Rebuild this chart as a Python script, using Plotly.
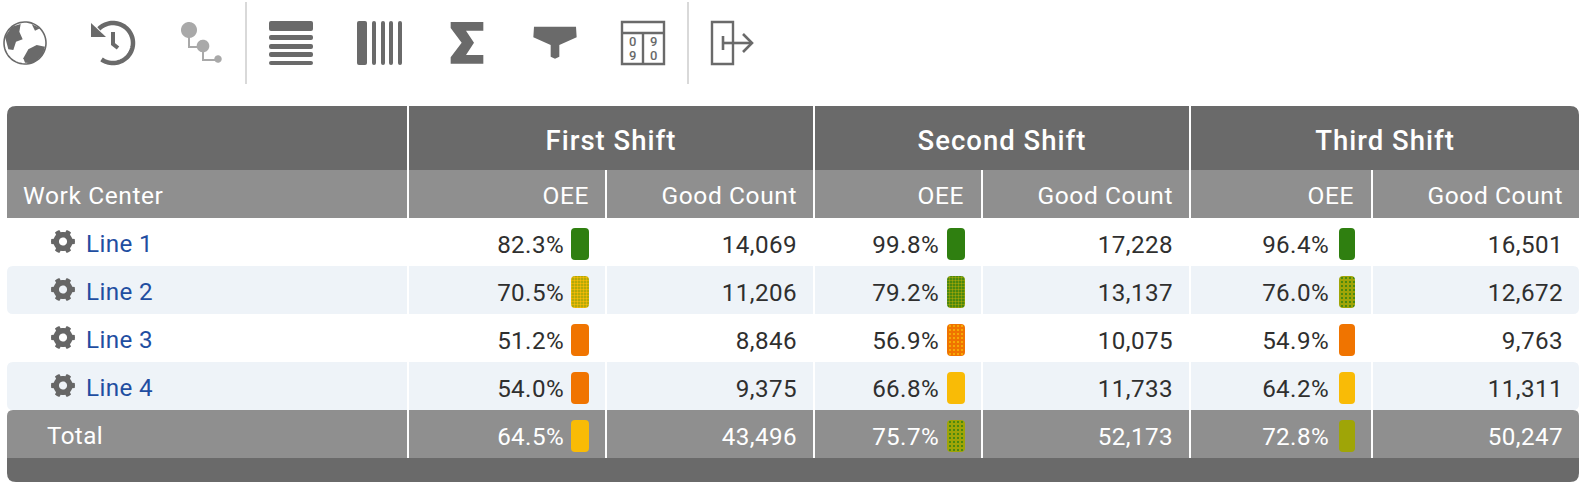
import numpy as np
import plotly.graph_objects as go

shift_names = ['First Shift', 'Second Shift', 'Third Shift']
work_centers = ['Line 1', 'Line 2', 'Line 3', 'Line 4']
total_label = 'Total'

first_oee = [82.3, 70.5, 51.2, 54.0, 64.5]
first_good = [14069, 11206, 8846, 9375, 43496]
second_oee = [99.8, 79.2, 56.9, 66.8, 75.7]
second_good = [17228, 13137, 10075, 11733, 52173]
third_oee = [96.4, 76.0, 54.9, 64.2, 72.8]
third_good = [16501, 12672, 9763, 11311, 50247]

GREEN, OLIVE, AMBER, ORANGE = '#2f7f10', '#9fa507', '#f9bb06', '#f07400'
first_chip = [GREEN, OLIVE, ORANGE, ORANGE, AMBER]
second_chip = [GREEN, GREEN, ORANGE, AMBER, OLIVE]
third_chip = [GREEN, OLIVE, ORANGE, AMBER, OLIVE]
first_dots = [None, AMBER, None, None, None]
second_dots = [None, OLIVE, AMBER, None, GREEN]
third_dots = [None, GREEN, None, None, None]

DARK = '#6a6a6a'
MID = '#8f8f8f'
STRIPE = '#eef3f8'
INK = '#2f2f2f'
BLUE = '#1f4ea1'
LIGHT = '#a9a9a9'
FONT = 'Roboto'

TABLE_L, TABLE_R = 7, 1579
ROW_H = 48
ROW_TOP = [218, 266, 314, 362, 410]
shift_lines = [408, 814, 1190]
oee_lines = [606, 982, 1372]
shift_x = [611, 1002, 1385]
oee_right = [589, 964, 1354]
good_right = [797, 1173, 1563]
chip_center = [580, 956, 1347]
chip_width = [18, 18, 16]


def rounded(x0, y0, x1, y1, tl=0, tr=0, br=0, bl=0):
    return (f'M {x0+tl} {y0} L {x1-tr} {y0} Q {x1} {y0} {x1} {y0+tr} '
            f'L {x1} {y1-br} Q {x1} {y1} {x1-br} {y1} '
            f'L {x0+bl} {y1} Q {x0} {y1} {x0} {y1-bl} '
            f'L {x0} {y0+tl} Q {x0} {y0} {x0+tl} {y0} Z')


def poly(points, scale=1.0, ox=0.0, oy=0.0, close=True):
    p = [f'{ox + x * scale:.2f} {oy + y * scale:.2f}' for x, y in points]
    return 'M ' + ' L '.join(p) + (' Z' if close else '')


def arc(cx, cy, r, a0, a1, n=60):
    a = np.radians(np.linspace(a0, a1, n))
    return list(zip(cx + r * np.cos(a), cy - r * np.sin(a)))


def gear(cx, cy, r=12.0, teeth=6):
    outline = []
    step = 360 / teeth
    for i in range(teeth):
        c = i * step
        outline += arc(cx, cy, r * 0.8, c - step / 2, c - step * 0.27, 3)
        outline += arc(cx, cy, r, c - step * 0.2, c + step * 0.2, 3)
        outline += arc(cx, cy, r * 0.8, c + step * 0.27, c + step / 2, 3)
    hole = arc(cx, cy, r * 0.34, 360, 0, 16)
    return poly(outline) + ' ' + poly(hole)


fig = go.Figure()


def fill(path, color, layer='below'):
    fig.add_shape(type='path', path=path, fillcolor=color, line_width=0, layer=layer)


def stroke(path, color=DARK, width=2.0):
    fig.add_shape(type='path', path=path, line=dict(color=color, width=width), layer='below')


# table background
fill(rounded(TABLE_L, 106, TABLE_R, 170, tl=9, tr=9), DARK)
fill(rounded(TABLE_L, 170, TABLE_R, 218), MID)
for i in (1, 3):
    fill(rounded(TABLE_L, ROW_TOP[i], TABLE_R, ROW_TOP[i] + ROW_H, 6, 6, 6, 6), STRIPE)
fill(rounded(TABLE_L, 410, TABLE_R, 458, tl=6, tr=6), MID)
fill(rounded(TABLE_L, 458, TABLE_R, 482, br=9, bl=9), DARK)
for x in shift_lines:
    fill(rounded(x - 1, 106, x + 1, 458), 'white')
for x in oee_lines:
    fill(rounded(x - 1, 170, x + 1, 458), 'white')
for i in range(4):
    fill(gear(63, ROW_TOP[i] + 23.5), '#666666')

# toolbar
stroke(poly(arc(25, 43, 21, 0, 360)), DARK, 1.6)
fill(poly([(15, 110), (35, 80), (62, 72), (58, 95), (68, 118), (48, 125), (40, 150), (25, 148)], 1 / 3), DARK)
fill(poly([(70, 175), (85, 148), (110, 135), (135, 140), (128, 165), (100, 190), (75, 188)], 1 / 3), DARK)
fill(poly([(95, 72), (120, 85), (105, 92)], 1 / 3), DARK)

stroke(poly(arc(113, 43, 20, 235, 495), close=False), DARK, 4.5)
fill(poly([(91, 23), (91, 37), (106, 37)]), DARK)
stroke(poly([(113, 32), (113, 44), (118, 48)], close=False), DARK, 4)

fill(poly(arc(189, 30, 8, 0, 360)), LIGHT)
fill(poly(arc(203, 46, 6.3, 0, 360)), LIGHT)
fill(poly(arc(218, 59, 3.7, 0, 360)), LIGHT)
stroke(poly([(189, 30), (189, 47), (203, 47), (203, 60), (218, 60)], close=False), LIGHT, 2)

for x in (246, 688):
    fill(rounded(x - 1, 2, x + 1, 84), '#d9d9d9')

for y0, y1 in [(21, 31), (35, 40), (44, 49), (52, 57), (61, 65)]:
    fill(rounded(269, y0, 313, y1, 2, 2, 2, 2), DARK)
for x0, x1 in [(357, 367), (372, 376), (381, 385), (389, 393), (398, 402)]:
    fill(rounded(x0, 21, x1, 65, 2, 2, 2, 2), DARK)

fill(poly([(152, 66), (250, 66), (250, 92), (198, 92), (222, 128), (198, 165), (250, 165),
           (250, 191), (152, 191), (152, 172), (185, 128), (152, 84)], 1 / 3, 400), DARK)
fill(poly([(402, 80), (528, 80), (530, 112), (478, 135), (478, 170), (465, 176), (452, 170),
           (452, 135), (400, 112)], 1 / 3, 400), DARK)

stroke(rounded(622, 22, 664, 64), DARK, 2.4)
stroke(poly([(622, 33), (664, 33)], close=False), DARK, 2.4)
stroke(poly([(643, 33), (643, 64)], close=False), DARK, 2.4)
stroke(rounded(712, 22, 733, 64), DARK, 2.4)
stroke(poly([(723, 43), (752, 43)], close=False), DARK, 2.6)
stroke(poly([(723, 36), (723, 50)], close=False), DARK, 2.6)
stroke(poly([(743, 34), (752, 43), (743, 52)], close=False), DARK, 2.6)

for x, y, ch in [(632.5, 41, '0'), (632.5, 55, '9'), (653, 41, '9'), (653, 55, '0')]:
    fig.add_annotation(x=x, y=y, text=ch, showarrow=False,
                       font=dict(family=FONT, size=13, color=DARK, weight=500))

# status chips, one bar trace per chip look so the dither colour stays per trace
chips = {}
for j, (cols, dots) in enumerate(zip((first_chip, second_chip, third_chip),
                                     (first_dots, second_dots, third_dots))):
    for i in range(len(first_oee)):
        g = chips.setdefault((cols[i], dots[i]), dict(x=[], top=[], w=[]))
        g['x'].append(chip_center[j])
        g['top'].append(ROW_TOP[i] + 10)
        g['w'].append(chip_width[j])

for (col, dot), g in chips.items():
    marker = dict(color=col, cornerradius=4, line_width=0)
    if dot:
        dense = dot in (AMBER, OLIVE) and col != ORANGE
        marker['pattern'] = dict(shape='.', fgcolor=dot, fgopacity=1,
                                 size=3 if dense else 4,
                                 solidity=0.5 if dense else 0.2, fillmode='overlay')
    fig.add_trace(go.Bar(x=g['x'], y=[32] * len(g['x']), base=g['top'], width=g['w'],
                         marker=marker, hoverinfo='skip'))


def text_trace(x, y, text, color, size, pos, weight=400):
    fig.add_trace(go.Scatter(x=x, y=y, text=text, mode='text', textposition=pos,
                             textfont=dict(family=FONT, size=size, color=color, weight=weight),
                             hoverinfo='skip', cliponaxis=False))


# headers
text_trace(shift_x, [143] * 3, shift_names, 'white', 27.5, 'middle center', 500)
text_trace([23], [198], ['Work Center'], 'white', 24.5, 'middle right')
text_trace(oee_right, [198] * 3, ['OEE'] * 3, 'white', 24.5, 'middle left')
text_trace(good_right, [198] * 3, ['Good Count'] * 3, 'white', 24.5, 'middle left')

# body
text_trace([86] * 4, [r + 28 for r in ROW_TOP[:4]], work_centers, BLUE, 24.2, 'middle right')
text_trace([47], [438], [total_label], 'white', 24.2, 'middle right')
oee_cols = (first_oee, second_oee, third_oee)
good_cols = (first_good, second_good, third_good)
for j in range(3):
    ys = [r + 29 for r in ROW_TOP]
    pct = [f'{v:.1f}%' for v in oee_cols[j]]
    cnt = [f'{v:,}' for v in good_cols[j]]
    text_trace([oee_right[j] - 25] * 4, ys[:4], pct[:4], INK, 24.2, 'middle left')
    text_trace([good_right[j]] * 4, ys[:4], cnt[:4], INK, 24.2, 'middle left')
    text_trace([oee_right[j] - 25], ys[4:], pct[4:], 'white', 24.2, 'middle left')
    text_trace([good_right[j]], ys[4:], cnt[4:], 'white', 24.2, 'middle left')

fig.update_layout(
    width=1583, height=485, autosize=False,
    margin=dict(l=0, r=0, t=0, b=0),
    paper_bgcolor='white', plot_bgcolor='white',
    showlegend=False, barmode='overlay',
    xaxis=dict(range=[0, 1583], visible=False, fixedrange=True),
    yaxis=dict(range=[485, 0], visible=False, fixedrange=True),
)

# the table text has a little tracking, plotly has no attribute for it
spacing_js = """
document.body.style.margin = '0';
document.querySelectorAll('.textpoint text').forEach(function (t) {
    var s = parseFloat(t.style.fontSize);
    t.style.letterSpacing = s > 26 ? '1px' : (s > 24.3 ? '0.6px' : '0.4px');
});
"""
fig.write_html('out.html', config={'displayModeBar': False}, post_script=spacing_js)
